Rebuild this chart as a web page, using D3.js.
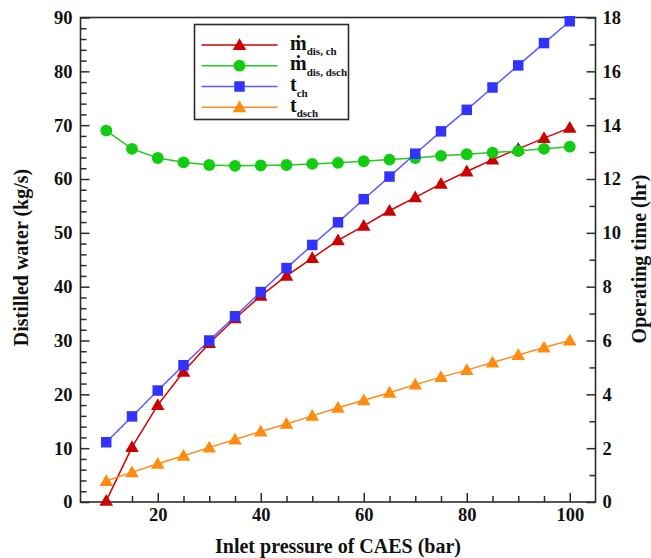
<!DOCTYPE html>
<html>
<head>
<meta charset="utf-8">
<script src="https://cdn.jsdelivr.net/npm/d3@7"></script>
<style>
  html, body { margin: 0; padding: 0; background: #fff; }
  svg { display: block; }
  text { font-family: "Liberation Serif", "Times New Roman", serif; font-weight: bold; fill: #111; }
</style>
</head>
<body>
<svg id="chart" width="651" height="558"></svg>
<script>
// Inlet pressure of CAES (bar)
const pressure = [10, 15, 20, 25, 30, 35, 40, 45, 50, 55, 60, 65, 70, 75, 80, 85, 90, 95, 100];

// Distilled water (kg/s), left axis
const mDisCh   = [0.2, 10.2, 18.0, 24.2, 29.5, 34.1, 38.3, 42.0, 45.3, 48.6, 51.3, 54.1, 56.6, 59.1, 61.4, 63.6, 65.6, 67.6, 69.5];
const mDisDsch = [69.0, 65.6, 63.9, 63.1, 62.6, 62.45, 62.5, 62.6, 62.8, 63.0, 63.3, 63.6, 63.9, 64.3, 64.6, 64.9, 65.2, 65.6, 66.0];

// Operating time (hr), right axis
const tCh   = [2.22, 3.18, 4.14, 5.08, 6.0, 6.9, 7.8, 8.69, 9.55, 10.39, 11.25, 12.09, 12.94, 13.77, 14.57, 15.4, 16.22, 17.05, 17.86];
const tDsch = [0.78, 1.1, 1.42, 1.72, 2.02, 2.32, 2.62, 2.9, 3.2, 3.5, 3.78, 4.06, 4.36, 4.64, 4.9, 5.18, 5.46, 5.74, 6.0];

const xTicks = [20, 40, 60, 80, 100];
const yLeftTicks = [0, 10, 20, 30, 40, 50, 60, 70, 80, 90];
const yRightTicks = [0, 2, 4, 6, 8, 10, 12, 14, 16, 18];

const svg = d3.select("#chart");
const L = 80.5, R = 595.5, T = 17.5, B = 502;

const x = d3.scaleLinear().domain([5, 105]).range([L, R]);
const yL = d3.scaleLinear().domain([0, 90]).range([B, T]);
const yR = d3.scaleLinear().domain([0, 18]).range([B, T]);

const frameColor = "#2b2b2b";

// minor ticks
const xMinor = d3.range(10, 105, 5).filter(v => !xTicks.includes(v));
const yLMinor = d3.range(0, 91, 2).filter(v => v % 10 !== 0);
const yRMinor = d3.range(1, 18, 2);

function styleAxis(g) {
  g.select(".domain").remove();
  g.selectAll(".tick line").attr("stroke", frameColor).attr("stroke-width", 1.5);
  g.selectAll(".tick text").style("font-size", "18.5px").attr("fill", "#111");
}

// bottom axis (ticks point inward)
svg.append("g").attr("transform", `translate(0,${B})`)
  .call(d3.axisBottom(x).tickValues(xTicks).tickSizeInner(-9).tickSizeOuter(0).tickPadding(6))
  .call(styleAxis);
svg.append("g").attr("transform", `translate(0,${B})`)
  .call(d3.axisBottom(x).tickValues(xMinor).tickSizeInner(-6).tickSizeOuter(0).tickFormat(""))
  .call(styleAxis);

// left axis
svg.append("g").attr("transform", `translate(${L},0)`)
  .call(d3.axisLeft(yL).tickValues(yLeftTicks).tickSizeInner(-9).tickSizeOuter(0).tickPadding(8))
  .call(styleAxis);
svg.append("g").attr("transform", `translate(${L},0)`)
  .call(d3.axisLeft(yL).tickValues(yLMinor).tickSizeInner(-6).tickSizeOuter(0).tickFormat(""))
  .call(styleAxis);

// right axis
svg.append("g").attr("transform", `translate(${R},0)`)
  .call(d3.axisRight(yR).tickValues(yRightTicks).tickSizeInner(-9).tickSizeOuter(0).tickPadding(7))
  .call(styleAxis);
svg.append("g").attr("transform", `translate(${R},0)`)
  .call(d3.axisRight(yR).tickValues(yRMinor).tickSizeInner(-6).tickSizeOuter(0).tickFormat(""))
  .call(styleAxis);

// frame
svg.append("rect").attr("x", L).attr("y", T).attr("width", R - L).attr("height", B - T)
  .attr("fill", "none").attr("stroke", frameColor).attr("stroke-width", 1.6);

// axis titles
svg.append("text").attr("x", (L + R) / 2).attr("y", 553).attr("text-anchor", "middle")
  .style("font-size", "20px").text("Inlet pressure of CAES (bar)");
svg.append("text").attr("transform", `translate(27.5,257.5) rotate(-90)`).attr("text-anchor", "middle")
  .style("font-size", "20px").text("Distilled water (kg/s)");
svg.append("text").attr("transform", `translate(645.5,259) rotate(-90)`).attr("text-anchor", "middle")
  .style("font-size", "20px").text("Operating time (hr)");

const series = [
  { name: "mDisCh",   values: mDisCh,   scale: yL, line: "#d40000", fill: "#cc0000", marker: "triangle" },
  { name: "mDisDsch", values: mDisDsch, scale: yL, line: "#22cc22", fill: "#11cc11", marker: "circle" },
  { name: "tCh",      values: tCh,      scale: yR, line: "#5a5aff", fill: "#3333ff", marker: "square" },
  { name: "tDsch",    values: tDsch,    scale: yR, line: "#ff8c1a", fill: "#ff8c10", marker: "triangle" }
];

const symbols = {
  triangle: d3.symbol().type(d3.symbolTriangle).size(80),
  circle: d3.symbol().type(d3.symbolCircle).size(110),
  square: d3.symbol().type(d3.symbolSquare).size(110)
};

const plot = svg.append("g");
series.forEach(s => {
  const pts = pressure.map((p, i) => [p, s.values[i]]);
  plot.append("path").datum(pts)
    .attr("fill", "none").attr("stroke", s.line).attr("stroke-width", 1.5)
    .attr("d", d3.line().x(d => x(d[0])).y(d => s.scale(d[1])));
  plot.selectAll(null).data(pts).enter().append("path")
    .attr("transform", d => `translate(${x(d[0])},${s.scale(d[1]) + (s.marker === "triangle" ? 1 : 0)})`)
    .attr("d", symbols[s.marker]())
    .attr("fill", s.fill);
});

// legend
const lg = svg.append("g");
lg.append("rect").attr("x", 194.5).attr("y", 24.5).attr("width", 154).attr("height", 95)
  .attr("fill", "#fff").attr("stroke", frameColor).attr("stroke-width", 1.6);
const legendRows = [
  { s: series[0], main: "ṁ", sub: "dis, ch" },
  { s: series[1], main: "ṁ", sub: "dis, dsch" },
  { s: series[2], main: "t", sub: "ch" },
  { s: series[3], main: "t", sub: "dsch" }
];
const rowY = [45, 65.7, 86.5, 107.3];
legendRows.forEach((r, i) => {
  const yy = rowY[i];
  lg.append("line").attr("x1", 201.5).attr("x2", 277.5).attr("y1", yy).attr("y2", yy)
    .attr("stroke", r.s.line).attr("stroke-width", 1.5);
  lg.append("path").attr("transform", `translate(239.5,${yy + (r.s.marker === "triangle" ? 1 : 0)})`)
    .attr("d", symbols[r.s.marker]()).attr("fill", r.s.fill);
  const t = lg.append("text").attr("x", 290).attr("y", yy + 4.5).style("font-size", "20px");
  t.append("tspan").text(r.main);
  t.append("tspan").attr("dy", 5.5).style("font-size", "11px").text(r.sub);
});
</script>
</body>
</html>
